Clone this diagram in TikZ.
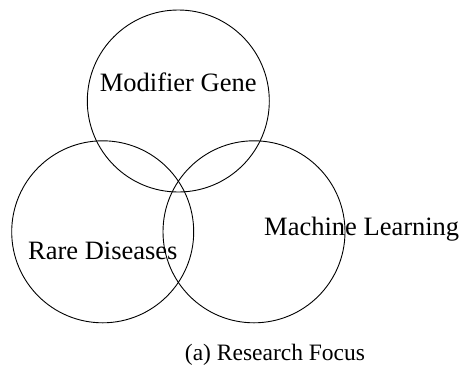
\documentclass[tikz,border=0pt]{standalone}
\usepackage{fontspec}
\setmainfont{Liberation Serif}
\usetikzlibrary{positioning}

\tikzset{
	venn/.style={draw, circle, line width=0.9pt, minimum size=182pt, inner sep=0pt},
	lbl/.style={anchor=base, inner sep=0pt, font=\fontsize{26.5}{31}\selectfont},
}

\begin{document}
\begin{tikzpicture}[x=1pt, y=-1pt]
		\useasboundingbox (0,0) rectangle (462,365);
		% the three sets
		\node[venn] (gene) at (178.3,101) {};
		\node[venn] (rare) at (102.7,231.8) {};
		\node[venn] (ml) at (254,231.8) {};
		% set names
		\node[lbl] (geneText) at (178.2,91.7) {Modifier Gene};
		\node[lbl] (rareText) at (102.8,259.3) {Rare Diseases};
		\node[lbl] (mlText) at (361.7,235) {Machine Learning};
		% subcaption
		\node[lbl, font=\fontsize{23.5}{28}\selectfont] (caption) at (275,360) {(a) Research Focus};
	\end{tikzpicture}
\end{document}
